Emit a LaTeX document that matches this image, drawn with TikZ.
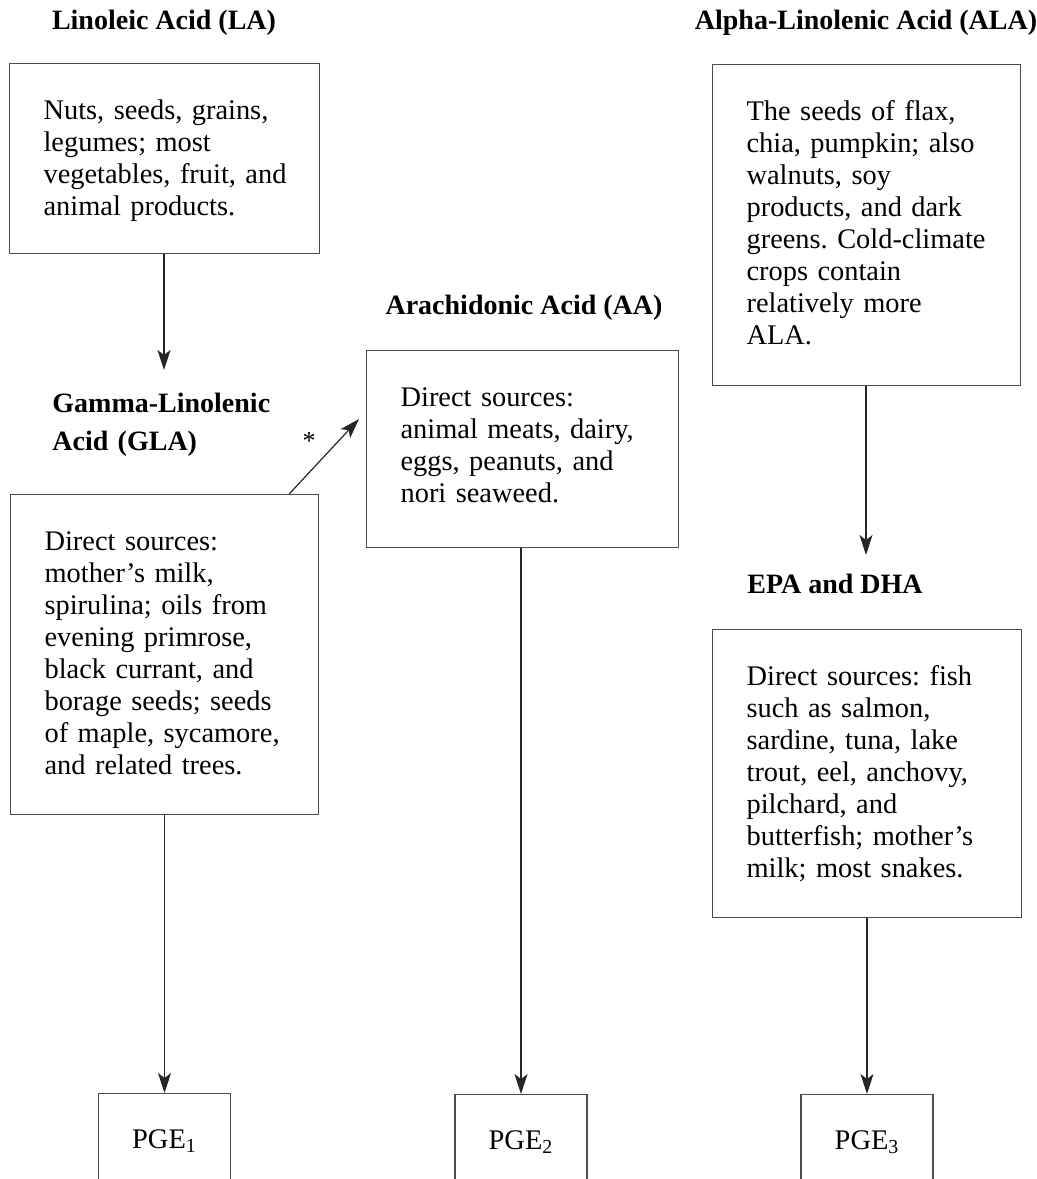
\documentclass[tikz,border=0pt]{standalone}
\usepackage{fontspec}
\setmainfont{Liberation Serif}
\usepackage{tikz}
\usetikzlibrary{arrows.meta}
\frenchspacing

\begin{document}
\begin{tikzpicture}[
    x=0.5pt, y=-0.5pt,
    >={Stealth[length=10pt,width=6.5pt,inset=2.5pt]},
    srcbox/.style={draw=black!70, line width=0.6pt, anchor=north west,
                   align=left, inner xsep=8pt, inner ysep=0pt, text height=28pt,
                   execute at begin node={\setlength{\leftskip}{9pt}},
                   font=\fontsize{14.2}{16}\selectfont},
    head/.style={font=\bfseries\fontsize{14}{19}\selectfont, inner sep=0pt},
    pge/.style={draw=black!70, line width=0.6pt, anchor=north,
                minimum width=66pt, inner ysep=0pt, text height=27.5pt,
                text depth=60pt, font=\fontsize{14.2}{16}\selectfont},
    arr/.style={->, line width=0.6pt, color=black!85},
  ]
  \path[use as bounding box] (0,0) rectangle (1037,1179);
  \clip (0,0) rectangle (1037,1179);

  % omega-6 side
  \node[head, anchor=base] (lahead) at (164,29) {Linoleic Acid (LA)};
  \node[srcbox, text width=139pt, text depth=67pt] (lasrc) at (9,63)
    {Nuts, seeds, grains,\\ legumes; most\\ vegetables, fruit, and\\ animal products.};
  \node[head, anchor=base west, align=left, text width=110pt] (glahead) at (52,412)
    {Gamma-Linolenic\\ Acid (GLA)};
  \node[srcbox, text width=138pt, text depth=132pt] (glasrc) at (10,494)
    {Direct sources:\\ mother's milk,\\ spirulina; oils from\\ evening primrose,\\ black currant, and\\
     borage seeds; seeds\\ of maple, sycamore,\\ and related trees.};
  \node[head, anchor=base] (aahead) at (524,314) {Arachidonic Acid (AA)};
  \node[srcbox, text width=140pt, text depth=70.5pt] (aasrc) at (366,350)
    {Direct sources:\\ animal meats, dairy,\\ eggs, peanuts, and\\ nori seaweed.};

  % omega-3 side
  \node[head, anchor=base] (alahead) at (866,29) {Alpha-Linolenic Acid (ALA)};
  \node[srcbox, text width=138pt, text depth=132.5pt] (alasrc) at (712,64)
    {The seeds of flax,\\ chia, pumpkin; also\\ walnuts, soy\\ products, and dark\\
     greens. Cold-climate\\ crops contain\\ relatively more\\ ALA.};
  \node[head, anchor=base west] (epahead) at (747,593) {EPA and DHA};
  \node[srcbox, text width=138.5pt, text depth=116pt] (epasrc) at (712,629)
    {Direct sources: fish\\ such as salmon,\\ sardine, tuna, lake\\ trout, eel, anchovy,\\
     pilchard, and\\ butterfish; mother's\\ milk; most snakes.};

  % prostaglandins
  \node[pge] (pge1) at (164.5,1093) {PGE\textsubscript{1}};
  \node[pge] (pge2) at (521,1094) {PGE\textsubscript{2}};
  \node[pge] (pge3) at (867,1094) {PGE\textsubscript{3}};

  \coordinate (glatop) at (164,370);
  \coordinate (epatop) at (866,555);
  \coordinate (aatip) at (359,419);

  \draw[arr] (lasrc.south -| glatop) -- (glatop);
  \draw[arr] (alasrc.south -| epatop) -- (epatop);
  \draw[arr] ([xshift=-15pt]glasrc.north east) -- (aatip);
  \node[font=\fontsize{13}{13}\selectfont, inner sep=0pt] (star) at (309,441) {*};

  \draw[arr] (glasrc.south -| pge1.north) -- (pge1.north);
  \draw[arr] (aasrc.south -| pge2.north) -- (pge2.north);
  \draw[arr] (epasrc.south -| pge3.north) -- (pge3.north);
\end{tikzpicture}
\end{document}
